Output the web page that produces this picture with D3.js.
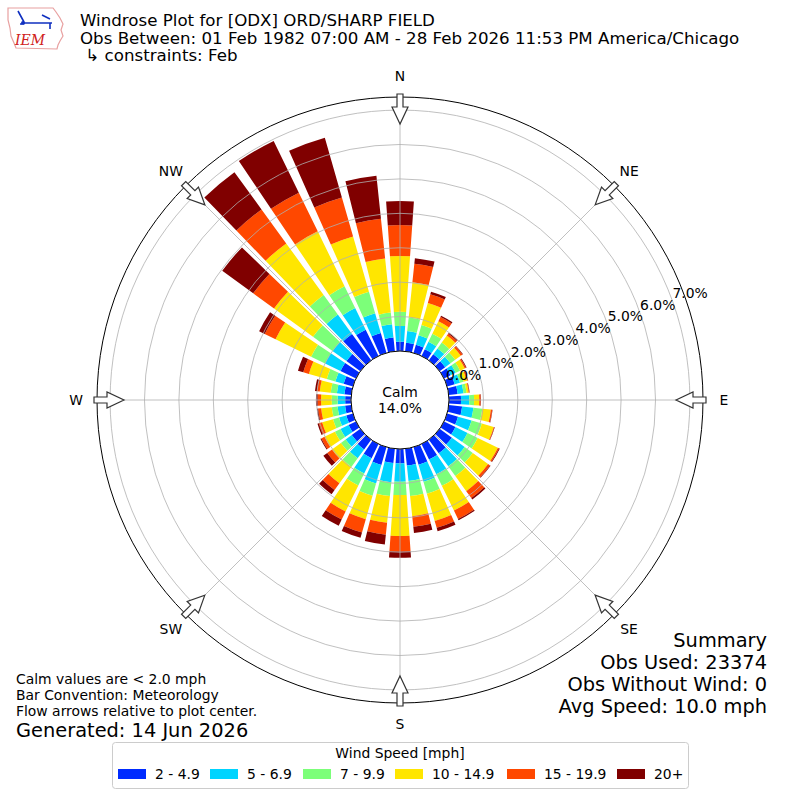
<!DOCTYPE html>
<html>
<head>
<meta charset="utf-8">
<script src="https://cdn.jsdelivr.net/npm/d3@7"></script>
<style>
  body { margin: 0; background: #fff; }
  svg { font-family: "DejaVu Sans", sans-serif; }
</style>
</head>
<body>
<div id="chart"></div>
<script>
// Direcciones (grados, convención meteorológica)
const directions = [0, 10, 20, 30, 40, 50, 60, 70, 80, 90, 100, 110,
    120, 130, 140, 150, 160, 170, 180, 190, 200, 210, 220, 230,
    240, 250, 260, 270, 280, 290, 300, 310, 320, 330, 340, 350];

const speedBins = ["2 - 4.9", "5 - 6.9", "7 - 9.9", "10 - 14.9", "15 - 19.9", "20+"];
const binColors = ["#002bff", "#00d4ff", "#7cff79", "#ffe600", "#ff4800", "#800000"];

// Frecuencia (%) por dirección y rango de velocidad
const speed2to5 = [0.27, 0.25, 0.25, 0.22, 0.22, 0.20, 0.21, 0.23, 0.26, 0.35, 0.39, 0.33,
    0.37, 0.44, 0.49, 0.50, 0.53, 0.49, 0.42, 0.42, 0.54, 0.46, 0.35, 0.31,
    0.24, 0.20, 0.18, 0.17, 0.20, 0.28, 0.50, 0.50, 0.95, 0.85, 0.60, 0.40];
const speed5to7 = [0.46, 0.34, 0.28, 0.24, 0.21, 0.19, 0.17, 0.16, 0.17, 0.24, 0.33, 0.41,
    0.39, 0.46, 0.47, 0.48, 0.52, 0.45, 0.53, 0.56, 0.56, 0.49, 0.32, 0.22,
    0.26, 0.22, 0.22, 0.22, 0.22, 0.25, 0.50, 0.50, 0.70, 0.70, 0.60, 0.39];
const speed7to10 = [0.41, 0.40, 0.31, 0.26, 0.21, 0.17, 0.14, 0.11, 0.09, 0.14, 0.26, 0.31,
    0.33, 0.29, 0.35, 0.37, 0.36, 0.44, 0.39, 0.40, 0.37, 0.39, 0.31, 0.17,
    0.18, 0.18, 0.17, 0.17, 0.18, 0.26, 0.45, 0.70, 0.70, 0.70, 0.65, 0.34];
const speed10to15 = [1.62, 1.03, 0.67, 0.40, 0.25, 0.20, 0.15, 0.10, 0.06, 0.15, 0.25, 0.36,
    0.65, 0.55, 0.54, 0.80, 0.82, 0.59, 1.19, 0.78, 0.71, 0.84, 0.59, 0.32,
    0.34, 0.33, 0.31, 0.31, 0.32, 0.54, 1.15, 1.40, 1.85, 1.78, 1.67, 1.58];
const speed15to20 = [0.90, 0.54, 0.26, 0.14, 0.07, 0.06, 0.04, 0.03, 0.02, 0.04, 0.04, 0.02,
    0.04, 0.07, 0.25, 0.27, 0.21, 0.31, 0.45, 0.35, 0.40, 0.26, 0.24, 0.17,
    0.10, 0.10, 0.09, 0.10, 0.08, 0.17, 0.35, 0.75, 1.22, 1.25, 1.18, 1.16];
const speed20plus = [0.70, 0.16, 0.08, 0.04, 0.03, 0.02, 0.02, 0.01, 0.01, 0.01, 0.01, 0.01,
    0.02, 0.02, 0.05, 0.04, 0.10, 0.18, 0.18, 0.29, 0.16, 0.20, 0.15, 0.14,
    0.03, 0.04, 0.03, 0.05, 0.06, 0.16, 0.18, 1.11, 1.34, 1.67, 1.80, 1.26];

const radialTicks = [0, 1, 2, 3, 4, 5, 6, 7];
const compassLabels = ["N", "NE", "E", "SE", "S", "SW", "W", "NW"];
const compassAngles = [0, 45, 90, 135, 180, 225, 270, 315];

const titleLines = [
    "Windrose Plot for [ODX] ORD/SHARP FIELD",
    "Obs Between: 01 Feb 1982 07:00 AM - 28 Feb 2026 11:53 PM America/Chicago",
    " \u21b3 constraints: Feb"
];
const summaryLines = ["Summary", "Obs Used: 23374", "Obs Without Wind: 0", "Avg Speed: 10.0 mph"];
const noteLines = ["Calm values are < 2.0 mph", "Bar Convention: Meteorology", "Flow arrows relative to plot center."];
const generatedText = "Generated: 14 Jun 2026";
const calmLabel = ["Calm", "14.0%"];
const legendTitle = "Wind Speed [mph]";

const width = 800, height = 800;
const cx = 400, cy = 400;
const rMax = 7.38;

const svg = d3.select('#chart').append('svg')
    .attr('width', width)
    .attr('height', height);

// Escalas
const r = d3.scaleLinear().domain([0, rMax]).range([49, 303]);
const angle = d3.scaleLinear().domain([0, 360]).range([0, 2 * Math.PI]);

const polar = (deg, rad) => [cx + rad * Math.sin(angle(deg)), cy - rad * Math.cos(angle(deg))];

// Datos apilados
const rows = directions.map((d, i) => ({
    dir: d,
    b0: speed2to5[i], b1: speed5to7[i], b2: speed7to10[i],
    b3: speed10to15[i], b4: speed15to20[i], b5: speed20plus[i]
}));
const keys = ["b0", "b1", "b2", "b3", "b4", "b5"];
const stacked = d3.stack().keys(keys)(rows);

const plot = svg.append('g').attr('transform', `translate(${cx},${cy})`);

// Barras
const arc = d3.arc()
    .innerRadius(d => r(d[0]))
    .outerRadius(d => r(d[1]))
    .startAngle(d => angle(d.data.dir - 4))
    .endAngle(d => angle(d.data.dir + 4));

plot.selectAll('.series')
    .data(stacked)
    .enter()
    .append('g')
    .attr('class', 'series')
    .attr('fill', (d, i) => binColors[i])
    .selectAll('path')
    .data(d => d)
    .enter()
    .append('path')
    .attr('d', arc);

// Rejilla
const grid = plot.append('g').attr('fill', 'none').attr('stroke', '#b0b0b0').attr('stroke-width', 0.8);
grid.selectAll('circle')
    .data(radialTicks)
    .enter()
    .append('circle')
    .attr('r', d => r(d));
grid.selectAll('line')
    .data(compassAngles)
    .enter()
    .append('line')
    .attr('x1', d => r(0) * Math.sin(angle(d)))
    .attr('y1', d => -r(0) * Math.cos(angle(d)))
    .attr('x2', d => r(rMax) * Math.sin(angle(d)))
    .attr('y2', d => -r(rMax) * Math.cos(angle(d)));

// Círculo de calma
plot.append('circle')
    .attr('r', r(0))
    .attr('fill', '#fff')
    .attr('stroke', '#000')
    .attr('stroke-width', 1);
plot.append('text')
    .attr('text-anchor', 'middle')
    .attr('font-size', 13.9)
    .selectAll('tspan')
    .data(calmLabel)
    .enter()
    .append('tspan')
    .attr('x', 0)
    .attr('y', (d, i) => -3 + i * 16)
    .text(d => d);

// Borde exterior
plot.append('circle')
    .attr('r', r(rMax))
    .attr('fill', 'none')
    .attr('stroke', '#000')
    .attr('stroke-width', 1);

// Etiquetas radiales
svg.append('g')
    .attr('font-size', 13.9)
    .selectAll('text')
    .data(radialTicks)
    .enter()
    .append('text')
    .attr('x', d => polar(70, r(d))[0])
    .attr('y', d => polar(70, r(d))[1] - 3)
    .text(d => d.toFixed(1) + '%');

// Flechas de flujo
const arrowPts = [[276, 0], [293, -8], [293, -3], [306, -3], [306, 3], [293, 3], [293, 8]];
plot.selectAll('.arrow')
    .data(compassAngles)
    .enter()
    .append('polygon')
    .attr('class', 'arrow')
    .attr('points', arrowPts.map(p => p.join(',')).join(' '))
    .attr('transform', d => `rotate(${d - 90})`)
    .attr('fill', '#fff')
    .attr('stroke', '#333')
    .attr('stroke-width', 1.2);

// Etiquetas de dirección
svg.append('g')
    .attr('font-size', 13.9)
    .attr('text-anchor', 'middle')
    .selectAll('text')
    .data(compassLabels)
    .enter()
    .append('text')
    .attr('x', (d, i) => polar(compassAngles[i], 324)[0])
    .attr('y', (d, i) => polar(compassAngles[i], 324)[1])
    .attr('dominant-baseline', 'central')
    .text(d => d);

// Títulos
svg.append('g')
    .attr('font-size', 16.67)
    .selectAll('text')
    .data(titleLines)
    .enter()
    .append('text')
    .attr('x', 80)
    .attr('y', (d, i) => 26 + i * 17.5)
    .attr('xml:space', 'preserve')
    .style('white-space', 'pre')
    .text(d => d);

// Logo IEM (aproximado)
const logo = svg.append('g');
logo.append('path')
    .attr('d', 'M8,8 L53,8 L56,12 L60,18 L63,24 L61,30 L63,36 L60,41 L58,45 L57,49 L16,48 L14,43 L11,36 L10,28 L8,20 Z')
    .attr('fill', 'none')
    .attr('stroke', '#e8a0a0')
    .attr('stroke-width', 1.2);
logo.append('path')
    .attr('d', 'M24,23 L52,23 M18,11 L24,22 M42,15 L50,19 M50,23 L50,29 M20,24 L22,24')
    .attr('fill', 'none')
    .attr('stroke', '#1030c0')
    .attr('stroke-width', 1.6);
logo.append('circle').attr('cx', 23).attr('cy', 23).attr('r', 2).attr('fill', '#1030c0');
logo.append('text')
    .attr('x', 15)
    .attr('y', 45)
    .attr('font-family', '"DejaVu Serif", serif')
    .attr('font-style', 'italic')
    .attr('font-size', 14)
    .attr('fill', '#d02020')
    .text('IEM');

// Resumen
svg.append('g')
    .attr('font-size', 19.4)
    .attr('text-anchor', 'end')
    .selectAll('text')
    .data(summaryLines)
    .enter()
    .append('text')
    .attr('x', 767)
    .attr('y', (d, i) => 647 + i * 22)
    .text(d => d);

// Notas
svg.append('g')
    .attr('font-size', 13.9)
    .selectAll('text')
    .data(noteLines)
    .enter()
    .append('text')
    .attr('x', 16)
    .attr('y', (d, i) => 684 + i * 16)
    .text(d => d);
svg.append('text')
    .attr('x', 16)
    .attr('y', 737)
    .attr('font-size', 19.4)
    .text(generatedText);

// Leyenda
const legend = svg.append('g');
legend.append('rect')
    .attr('x', 112.5).attr('y', 742.5)
    .attr('width', 576).attr('height', 46)
    .attr('rx', 3)
    .attr('fill', '#fff')
    .attr('stroke', '#ccc');
legend.append('text')
    .attr('x', 400).attr('y', 758)
    .attr('text-anchor', 'middle')
    .attr('font-size', 13.9)
    .text(legendTitle);
const legendX = [118, 210, 303, 395, 507, 617];
const items = legend.selectAll('.item')
    .data(speedBins)
    .enter()
    .append('g')
    .attr('class', 'item')
    .attr('transform', (d, i) => `translate(${legendX[i]},0)`);
items.append('rect')
    .attr('x', 0).attr('y', 769)
    .attr('width', 28).attr('height', 10)
    .attr('fill', (d, i) => binColors[i]);
items.append('text')
    .attr('x', 37).attr('y', 779)
    .attr('font-size', 13.9)
    .text(d => d);
</script>
</body>
</html>
